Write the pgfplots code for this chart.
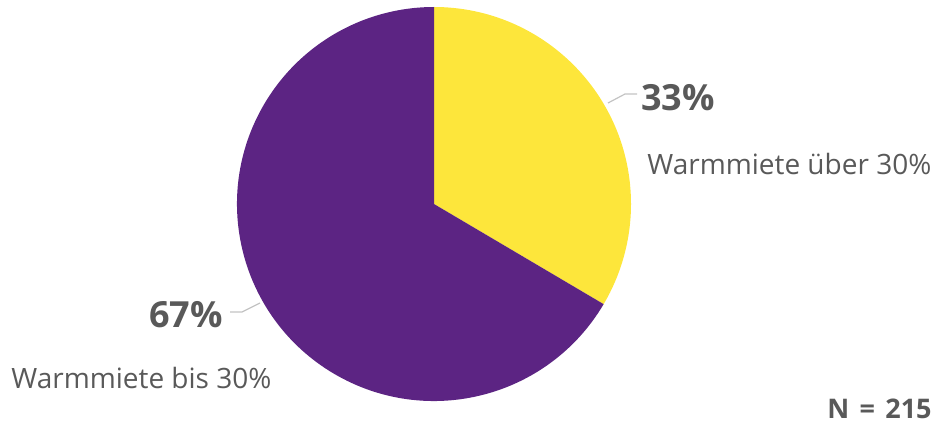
\documentclass[border=0pt]{standalone}
\usepackage{pgfplots}
\pgfplotsset{compat=1.18}
\usepackage{pgfplotstable}
\usepackage{fontspec}
\setmainfont{Open Sans}
\definecolor{pieyellow}{RGB}{253,230,59}
\definecolor{piepurple}{RGB}{92,36,131}
\definecolor{txtgray}{RGB}{89,89,89}
\definecolor{leader}{RGB}{195,195,195}
\pgfplotstableread{
label count
over 72
upto 143
}\piedata
\pgfplotstablegetelem{0}{count}\of\piedata
\let\countA\pgfplotsretval
\pgfplotstablegetelem{1}{count}\of\piedata
\let\countB\pgfplotsretval
\pgfmathsetmacro{\angA}{90-\countA/(\countA+\countB)*360}
\pgfmathsetmacro{\angEnd}{90-360}
\begin{document}
\begin{tikzpicture}
\begin{axis}[width=470bp,height=212.5bp,scale only axis,
  xmin=0,xmax=940,ymin=0,ymax=425,y dir=reverse,hide axis,clip=false]
\fill[pieyellow] (axis cs:434,204) -- ++(90:98.5bp) arc[start angle=90,end angle=\angA,radius=98.5bp] -- cycle;
\fill[piepurple] (axis cs:434,204) -- ++(\angA:98.5bp) arc[start angle=\angA,end angle=\angEnd,radius=98.5bp] -- cycle;
\draw[leader,line width=0.6bp] (axis cs:608,103) -- (axis cs:625,94) -- (axis cs:637,94);
\draw[leader,line width=0.6bp] (axis cs:230,312) -- (axis cs:242,312) -- (axis cs:260,303);
\node[anchor=base west,inner sep=0,text=txtgray,font=\fontsize{18bp}{20bp}\selectfont\bfseries] at (axis cs:641,110) {33\%};
\node[anchor=base west,inner sep=0,text=txtgray,font=\fontsize{14bp}{16bp}\selectfont] at (axis cs:647,174) {Warmmiete über 30\%};
\node[anchor=base east,inner sep=0,text=txtgray,font=\fontsize{18bp}{20bp}\selectfont\bfseries] at (axis cs:223,327) {67\%};
\node[anchor=base west,inner sep=0,text=txtgray,font=\fontsize{14bp}{16bp}\selectfont] at (axis cs:11,388) {Warmmiete bis 30\%};
\node[anchor=base east,inner sep=0,text=txtgray,font=\fontsize{13.5bp}{15bp}\selectfont\bfseries] at (axis cs:932,418) {N\hspace{0.38em}=\hspace{0.38em}215};
\end{axis}
\pgfresetboundingbox
\path (current axis.south west) rectangle (current axis.north east);
\end{tikzpicture}
\end{document}
